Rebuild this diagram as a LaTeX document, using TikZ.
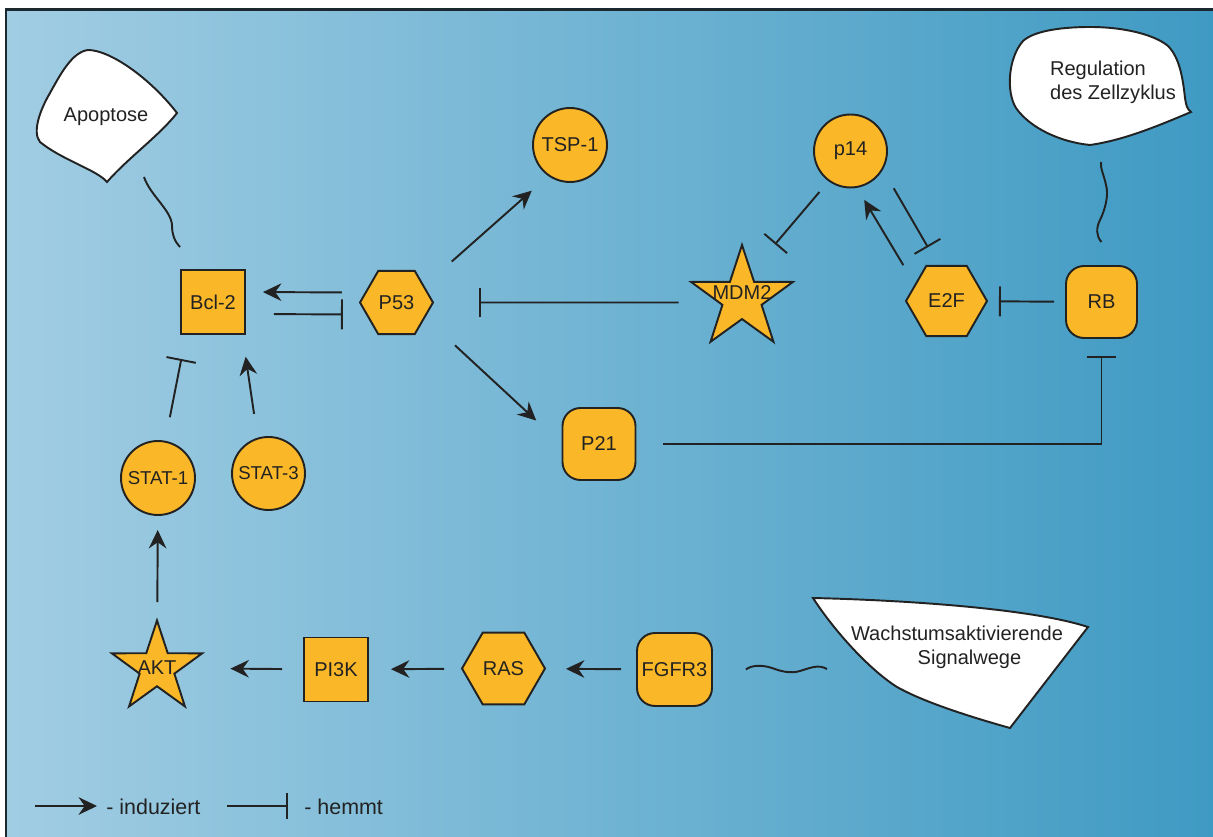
\documentclass[tikz,border=0pt]{standalone}
\usepackage{fontspec}
\setmainfont{Liberation Sans}
\usetikzlibrary{arrows.meta, shapes.geometric}

\definecolor{bgleft}{RGB}{161,205,227}
\definecolor{bgmid}{RGB}{125,186,216}
\definecolor{bgright}{RGB}{63,154,195}
\definecolor{protorange}{RGB}{250,184,40}
\definecolor{linegray}{RGB}{34,34,34}
\definecolor{framegray}{RGB}{28,40,48}

\begin{document}
\begin{tikzpicture}[
        x=0.02cm, y=-0.02cm,
        every node/.style={font=\fontsize{11.4}{13.7}\selectfont, text=linegray},
        prot/.style={draw=linegray, fill=protorange, line width=1.1pt},
        sqbox/.style={prot, rectangle, minimum size=1.28cm, inner sep=0pt},
        rbox/.style={prot, rectangle, rounded corners=0.36cm, minimum width=1.46cm, minimum height=1.44cm, inner sep=0pt},
        circ/.style={prot, circle, inner sep=0.5pt},
        hexa/.style={prot, regular polygon, regular polygon sides=6, inner sep=0pt},
        starn/.style={prot, star, star points=5, star point ratio=2.6, inner sep=0pt},
        blob/.style={draw=linegray, fill=white, line width=1.1pt},
        ind/.style={-{Stealth[length=10.5pt, width=10pt, inset=3.5pt]}, draw=linegray, line width=1.1pt},
        inh/.style={-{Bar[width=17pt]}, draw=linegray, line width=1.1pt},
        wavy/.style={draw=linegray, line width=1.1pt},
        legtext/.style={anchor=west, inner sep=0pt, font=\fontsize{12.2}{14}\selectfont}
    ]
        \useasboundingbox (0,0) rectangle (1213,837);
        % background and frame
        \fill[white] (0,0) rectangle (1213,837);
        \shade[left color=bgleft, middle color=bgmid, right color=bgright] (6,9) rectangle (1213,837);
        \draw[framegray, line width=1.4pt] (6,837) -- (6,9.5) -- (1213,9.5);

        % outcome blobs
        \draw[blob] (88,50) .. controls (110,50) and (150,78) .. (177,113)
            .. controls (160,135) and (128,158) .. (107,182)
            .. controls (97,170) and (62,160) .. (40,142)
            .. controls (32,132) and (40,110) .. (50,93)
            .. controls (60,75) and (72,52) .. (88,50) -- cycle;
        \node (apo) at (106,117) {Apoptose};
        \coordinate (apotail) at (144,177);

        \draw[blob] (1090,145) .. controls (1060,142) and (1030,128) .. (1016,108)
            .. controls (1006,92) and (1008,58) .. (1023,41)
            .. controls (1035,30) and (1065,27) .. (1090,27)
            .. controls (1125,27) and (1155,35) .. (1168,46)
            .. controls (1180,58) and (1183,80) .. (1185,98)
            .. controls (1186,105) and (1187,109) .. (1191,112)
            .. controls (1160,125) and (1125,140) .. (1090,145) -- cycle;
        \node[align=left] (reg) at (1113,82) {Regulation\\des Zellzyklus};
        \coordinate (regtail) at (1101,162);

        \draw[blob] (813,598) .. controls (900,600) and (1030,608) .. (1088,627)
            -- (1010,728)
            .. controls (960,714) and (920,700) .. (897,687)
            .. controls (870,670) and (835,632) .. (813,598) -- cycle;
        \node[align=center] (wach) at (957,647) {Wachstumsaktivierende\\\hspace*{0.5cm}Signalwege};
        \coordinate (wachtail) at (827,669);

        % proteins
        \node[sqbox] (bcl) at (213,302) {Bcl-2};
        \node[hexa, minimum size=1.46cm] (p53) at (396.5,302.5) {P53};
        \node[circ, minimum size=1.48cm] (tsp) at (570,145) {TSP-1};
        \node[circ, minimum size=1.46cm] (p14) at (850.5,151) {p14};
        \node[starn, minimum size=2.14cm, label={[yshift=0.12cm]center:MDM2}] (mdm) at (742,298.5) {};
        \node[hexa, minimum size=1.62cm] (e2f) at (946.5,301) {E2F};
        \node[rbox, minimum width=1.42cm] (rb) at (1101.5,302) {RB};
        \node[rbox] (p21) at (599,444) {P21};
        \node[circ, minimum size=1.48cm, font=\fontsize{10.6}{12}\selectfont] (stat1) at (158,478) {STAT-1};
        \node[circ, minimum size=1.46cm, font=\fontsize{10.6}{12}\selectfont] (stat3) at (268.5,473.5) {STAT-3};
        \node[starn, minimum size=1.9cm, label=center:AKT] (akt) at (157,668) {};
        \node[sqbox] (pi3k) at (336,669.5) {PI3K};
        \node[hexa, minimum size=1.66cm] (ras) at (503.5,668.5) {RAS};
        \node[rbox, minimum width=1.5cm, minimum height=1.46cm] (fgfr) at (674.5,669.5) {FGFR3};

        % connectors
        \draw[ind, shorten <=0.34cm, shorten >=0.34cm] ([yshift=0.2cm]p53.west) -- ([yshift=0.2cm]bcl.east);
        \draw[inh, shorten <=0.56cm, shorten >=0.32cm] ([yshift=-0.24cm]bcl.east) -- ([yshift=-0.24cm]p53.west);
        \draw[ind, shorten <=0.73cm, shorten >=0.44cm] (p53.31) -- (tsp.-125);
        \draw[ind, shorten <=0.81cm, shorten >=0.69cm] (p53.-28) -- (p21.west);
        \draw[inh, shorten <=0.67cm, shorten >=0.9cm] (mdm.west |- p53) -- (p53);
        \draw[inh, shorten <=0.28cm, shorten >=0.72cm] (p14.-126) -- (mdm.70);
        \draw[ind, shorten <=0.44cm, shorten >=0.28cm] (e2f.152) -- (p14.-80);
        \draw[inh, shorten <=0.43cm, shorten >=0.41cm] (p14.-30) -- (e2f.103);
        \draw[inh, shorten <=0.22cm, shorten >=0.22cm] (rb) -- (e2f);
        \draw[inh, shorten <=0.54cm, shorten >=0.34cm] (p21.east) -| (rb.south);
        \draw[inh, shorten <=0.48cm, shorten >=0.49cm] (stat1.79) -- ([xshift=0.12cm]bcl.south west);
        \draw[ind, shorten <=0.48cm, shorten >=0.44cm] (stat3.107) -- ([xshift=-0.07cm]bcl.south east);
        \draw[ind, shorten <=0.32cm, shorten >=0.28cm] (akt) -- (stat1);
        \draw[ind, shorten <=0.42cm, shorten >=0.94cm] (pi3k) -- (akt);
        \draw[ind, shorten <=0.34cm, shorten >=0.44cm] (ras) -- (pi3k);
        \draw[ind, shorten <=0.3cm, shorten >=0.4cm] (fgfr) -- (ras);

        % wavy links to the outcomes
        \draw[wavy] ([yshift=0.44cm]bcl.north west) .. controls (175,242) and (172,235) .. (172,225)
            .. controls (171,210) and (150,195) .. (apotail);
        \draw[wavy] ([yshift=0.46cm]rb.north) .. controls (1096,236) and (1096,228) .. (1100,220)
            .. controls (1105,210) and (1109,195) .. (1106,185)
            .. controls (1104,175) and (1100,168) .. (regtail);
        \draw[wavy] ([xshift=0.66cm]fgfr.east) .. controls (750,666) and (760,664) .. (772,668)
            .. controls (780,671) and (790,674) .. (800,671)
            .. controls (810,668) and (818,664) .. (wachtail);

        % legend
        \node[legtext] (legind) at (106,807) {- induziert};
        \node[legtext] (leghem) at (304,807) {- hemmt};
        \coordinate (legindstart) at (35,806);
        \coordinate (leghemstart) at (227,806);
        \draw[ind, shorten >=0.18cm] (legindstart) -- (legindstart -| legind.west);
        \draw[inh, -{Bar[width=15pt]}, shorten >=0.32cm] (leghemstart) -- (leghemstart -| leghem.west);
    \end{tikzpicture}
\end{document}
